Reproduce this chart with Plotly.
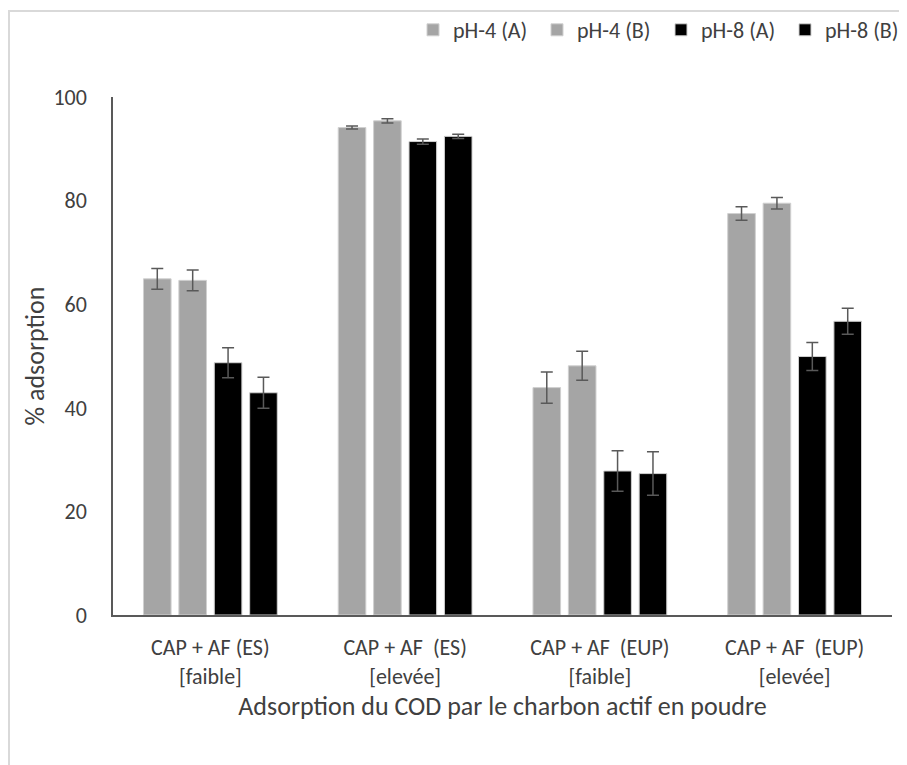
import plotly.graph_objects as go

categories = [
    "CAP + AF (ES)<br>[faible]",
    "CAP + AF\u00a0 (ES)<br>[elevée]",
    "CAP + AF\u00a0 (EUP)<br>[faible]",
    "CAP + AF\u00a0 (EUP)<br>[elevée]",
]
series_names = ["pH-4 (A)", "pH-4 (B)", "pH-8 (A)", "pH-8 (B)"]
ph4_a = [64.9, 94.1, 43.9, 77.5]
ph4_b = [64.6, 95.4, 48.1, 79.5]
ph8_a = [48.7, 91.4, 27.8, 49.9]
ph8_b = [42.9, 92.4, 27.3, 56.7]
err_ph4_a = [2.0, 0.3, 3.0, 1.3]
err_ph4_b = [2.0, 0.4, 2.8, 1.1]
err_ph8_a = [2.9, 0.5, 3.9, 2.7]
err_ph8_b = [3.0, 0.4, 4.2, 2.5]
y_ticks = [0, 20, 40, 60, 80, 100]

values = [ph4_a, ph4_b, ph8_a, ph8_b]
errors = [err_ph4_a, err_ph4_b, err_ph8_a, err_ph8_b]
colors = ["#a5a5a5", "#a5a5a5", "#000000", "#000000"]

FONT = "Carlito, Lato, sans-serif"
TXT = "#404040"

fig = go.Figure()
for name, vals, errs, col in zip(series_names, values, errors, colors):
    fig.add_trace(go.Bar(
        name=name, x=categories, y=vals,
        marker=dict(color=col, line=dict(color="#d0d0d0", width=1)),
        error_y=dict(type="data", array=errs, visible=True,
                     color="#595959", thickness=1.5, width=6),
    ))

W, H = 907, 765
OFF = 8  # page body margin
L, T = 113 - OFF, 97 - OFF
RIGHT, BOTTOM = 892 - OFF, 615 - OFF
R, B = W - RIGHT, H - BOTTOM
pw = RIGHT - L
ph = BOTTOM - T

fig.update_layout(
    width=W, height=H,
    margin=dict(l=L, r=R, t=T, b=B, autoexpand=False),
    paper_bgcolor="white", plot_bgcolor="white",
    barmode="group", bargap=0.273, bargroupgap=0.22,
    font=dict(family=FONT, color=TXT, size=20),
    legend=dict(orientation="h", x=(W - 6 - L) / pw, xanchor="right",
                y=(BOTTOM - (30 - OFF)) / ph, yanchor="middle",
                font=dict(size=22, color=TXT), bgcolor="rgba(0,0,0,0)",
                traceorder="normal", itemwidth=30,
                entrywidth=79, entrywidthmode="pixels"),
    xaxis=dict(
        showline=True, linecolor="#595959", linewidth=1.5,
        showgrid=False, ticks="", tickfont=dict(size=22, color=TXT),
        ticklabelstandoff=12,
        title=dict(text="Adsorption du COD par le charbon actif en poudre",
                   font=dict(size=26, color=TXT), standoff=8),
    ),
    yaxis=dict(
        range=[0, 100], tickvals=y_ticks, showline=True, linecolor="#595959",
        linewidth=1.5, showgrid=False, zeroline=False, ticks="",
        tickfont=dict(size=22, color=TXT), ticklabelstandoff=20,
        title=dict(text="% adsorption", font=dict(size=26, color=TXT),
                   standoff=1),
    ),
    shapes=[dict(type="rect", xref="paper", yref="paper",
                 x0=(9 - OFF - L) / pw, x1=(W + 20 - L) / pw,
                 y0=(BOTTOM - (H + 20)) / ph, y1=(BOTTOM - (11 - OFF)) / ph,
                 line=dict(color="#d9d9d9", width=2), layer="below")],
)

fig.write_html("out.html")
